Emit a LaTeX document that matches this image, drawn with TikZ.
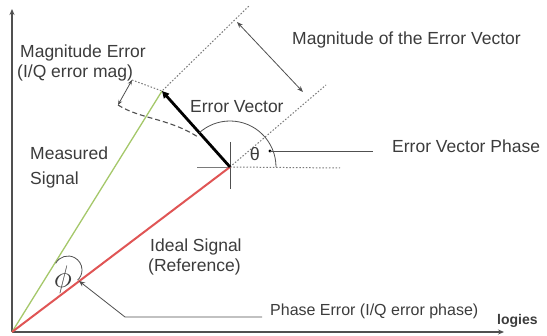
\documentclass[tikz,border=0pt]{standalone}
\usepackage{fontspec}
\setmainfont{Liberation Sans}
\usetikzlibrary{arrows.meta}
\definecolor{txt}{HTML}{3C3C3C}
\definecolor{sigred}{HTML}{E05555}
\definecolor{siggreen}{HTML}{A5C86A}
\definecolor{dotc}{HTML}{7A7A7A}
\definecolor{linec}{HTML}{505050}
\begin{document}
\begin{tikzpicture}[x=1pt,y=-1pt,
  lbl/.style={text=txt, font=\fontsize{17.5}{20}\selectfont, inner sep=0pt, anchor=base west},
  axisline/.style={draw=linec, line width=1.6pt},
  dotline/.style={draw=dotc, dash pattern=on 1.5pt off 1.8pt, line width=1pt},
  thinline/.style={draw=linec, line width=0.8pt}]
\useasboundingbox (0,0) rectangle (547,336);
\fill[white] (0,0) rectangle (547,336);
% key points
\coordinate (O) at (12,332);
\coordinate (I) at (230,167);
\coordinate (M) at (162,91);
\coordinate (ytop) at (12,9);
\coordinate (xend) at (504,332);
\coordinate (mA) at (132,80);
\coordinate (mB) at (118,105);
\coordinate (dM) at (250,5);
\coordinate (dI) at (326,85);
\coordinate (eA) at (237,22);
\coordinate (eB) at (303,92);
\coordinate (hR) at (340,168);
\coordinate (phT) at (270,151);
\coordinate (phE) at (373,151);
\coordinate (peTip) at (79,281);
\coordinate (peK) at (125,317);
\coordinate (peE) at (262,317);
% axes
\draw[axisline, -{Stealth[length=6pt,width=5pt]}] (O) -- (ytop);
\draw[axisline, -{Stealth[length=6pt,width=5pt]}] (O) -- (xend);
% dotted construction lines
\draw[dotline] (mA) -- (M) -- (dM);
\draw[dotline] (I) -- (dI);
\draw[dotline] (I) -- (hR);
% dashed ideal magnitude arc
\draw[draw=linec, dash pattern=on 5pt off 3pt, line width=1.1pt] (mB) .. controls (140,119) and (168,118) .. (198,137);
% crosshair
\draw[thinline] (230,142) -- (230,189);
\draw[draw=dotc, line width=0.8pt] (197,167) -- (I);
% signals
\draw[siggreen, line width=1.3pt] (O) -- (M);
\draw[sigred, line width=2pt] (O) -- (I);
% error vector
\draw[black, line width=2.8pt, -{Triangle[length=7pt,width=7pt]}] (I) -- (M);
% magnitude error dimension
\draw[thinline, {Stealth[length=5pt,width=4pt]}-{Stealth[length=5pt,width=4pt]}] (mA) -- (mB);
% magnitude of error vector dimension
\draw[thinline, {Stealth[length=6pt,width=4.5pt]}-{Stealth[length=6pt,width=4.5pt]}] (eA) -- (eB);
% theta arc and pointer
\draw[thinline] (I) ++(46,0) arc[start angle=0, end angle=-132, radius=46];
\fill[black] (phT) circle (1.7pt);
\draw[thinline] (phT) -- (phE);
\node[text=txt, font=\fontsize{18}{20}\selectfont, inner sep=0pt] (th) at (255,154) {θ};
% phase error arc and pointer
\draw[thinline] (68,270) ++(-152:14) arc[start angle=-152, end angle=47, radius=14];
\node[text=txt, font=\fontsize{20}{22}\selectfont, inner sep=0pt, scale=1.5] (phi) at (63,280) {$\phi$};
\draw[thinline, -{Stealth[length=6pt,width=5pt]}] (peE) -- (peK) -- (peTip);
% labels
\node[lbl] (lme1) at (20,58) {Magnitude Error};
\node[lbl] (lme2) at (17,78) {(I/Q error mag)};
\node[lbl] (lmev) at (292,45) {Magnitude of the Error Vector};
\node[lbl] (lev) at (190,113) {Error Vector};
\node[lbl] (levp) at (392,153) {Error Vector Phase};
\node[lbl] (lms1) at (30,160) {Measured};
\node[lbl] (lms2) at (30,185) {Signal};
\node[lbl] (lis1) at (150,252) {Ideal Signal};
\node[lbl] (lis2) at (148,272) {(Reference)};
\node[lbl, font=\fontsize{16}{18}\selectfont] (lpe) at (270,316) {Phase Error (I/Q error phase)};
\node[lbl, font=\bfseries\fontsize{14}{16}\selectfont] (llog) at (497,325) {logies};
\end{tikzpicture}
\end{document}
